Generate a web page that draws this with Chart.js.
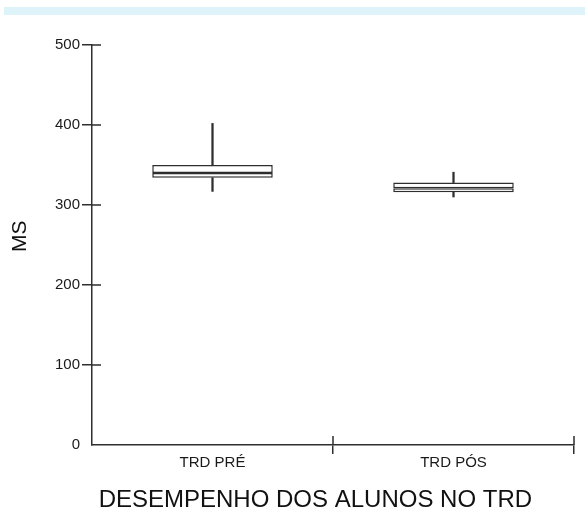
<!DOCTYPE html>
<html>
<head>
<meta charset="utf-8">
<script src="https://cdn.jsdelivr.net/npm/chart.js@4/dist/chart.umd.min.js"></script>
<style>
  html, body { margin: 0; padding: 0; background: #fff; }
  #wrap { position: relative; width: 585px; height: 512px; }
  #band { position: absolute; left: 4px; top: 7px; width: 581px; height: 8px; background: #dff3fa; }
  #c { position: absolute; left: 0; top: 0; }
</style>
</head>
<body>
<div id="wrap">
  <div id="band"></div>
  <canvas id="c" width="585" height="512"></canvas>
</div>
<script>
const categories = ['TRD PRÉ', 'TRD PÓS'];
const minValues    = [317, 310];
const q1Values     = [334, 316];
const medianValues = [340, 321];
const q3Values     = [350, 328];
const maxValues    = [402, 341];
const yTicks = [0, 100, 200, 300, 400, 500];
const xTitle = 'DESEMPENHO DOS ALUNOS NO TRD';
const yTitle = 'MS';

const LINE = '#2e2e2e';
const FONT = "'Liberation Sans', Arial, sans-serif";

const pair = (a, b) => a.map((v, i) => [v, b[i]]);

const boxCommon = {
  backgroundColor: '#ffffff',
  borderColor: LINE,
  borderWidth: 1.5,
  borderSkipped: false,
  barPercentage: 0.5,
  categoryPercentage: 1,
  grouped: false
};
const whiskerCommon = {
  backgroundColor: LINE,
  borderWidth: 0,
  barThickness: 1.6,
  grouped: false
};

const innerTicks = {
  id: 'innerTicks',
  afterDraw(chart) {
    const {ctx, scales: {x, y}, chartArea} = chart;
    ctx.save();
    ctx.strokeStyle = LINE;
    ctx.lineWidth = 1.5;
    ctx.beginPath();
    yTicks.slice(1).forEach(v => {
      const py = Math.round(y.getPixelForValue(v));
      ctx.moveTo(chartArea.left, py);
      ctx.lineTo(chartArea.left + 9, py);
    });
    for (let i = 1; i <= categories.length; i++) {
      const px = Math.round(x.getPixelForValue(i - 0.5));
      ctx.moveTo(px, chartArea.bottom);
      ctx.lineTo(px, chartArea.bottom - 9);
    }
    ctx.stroke();
    ctx.restore();
  }
};

new Chart(document.getElementById('c'), {
  type: 'bar',
  data: {
    labels: categories,
    datasets: [
      Object.assign({ data: pair(minValues, q1Values) }, whiskerCommon),
      Object.assign({ data: pair(q3Values, maxValues) }, whiskerCommon),
      Object.assign({ data: pair(q1Values, medianValues) }, boxCommon),
      Object.assign({ data: pair(medianValues, q3Values) }, boxCommon)
    ]
  },
  options: {
    responsive: false,
    animation: false,
    layout: { padding: { top: 45, right: 11, left: 0, bottom: 0 } },
    plugins: { legend: { display: false }, tooltip: { enabled: false } },
    scales: {
      x: {
        grid: {
          offset: true,
          drawOnChartArea: false,
          drawTicks: true,
          tickLength: 9,
          color: (c) => c.index === 0 ? 'rgba(0,0,0,0)' : LINE,
          lineWidth: 1.5
        },
        border: { display: true, color: LINE, width: 1.5 },
        ticks: { color: '#1a1a1a', font: { family: FONT, size: 15 }, padding: 0 },
        title: {
          display: true, text: ' ' + xTitle, color: '#111', align: 'start',
          font: { family: FONT, size: 24, lineHeight: 1 },
          padding: { top: 0, bottom: 0 }
        },
        afterFit(s) { s.height = 67; }
      },
      y: {
        min: 0, max: 500,
        afterBuildTicks(s) { s.ticks = yTicks.map(v => ({ value: v })); },
        grid: {
          drawOnChartArea: false,
          drawTicks: true,
          tickLength: 10,
          color: (c) => c.index === 0 ? 'rgba(0,0,0,0)' : LINE,
          lineWidth: 1.5
        },
        border: { display: true, color: LINE, width: 1.5 },
        ticks: { color: '#1a1a1a', font: { family: FONT, size: 15 }, padding: 2 },
        title: {
          display: true, text: '   ' + yTitle, color: '#111',
          font: { family: FONT, size: 21, lineHeight: 1 },
          padding: { top: 9.5, bottom: 0 }
        },
        afterFit(s) { s.width = 92; }
      }
    }
  },
  plugins: [innerTicks]
});
</script>
</body>
</html>
